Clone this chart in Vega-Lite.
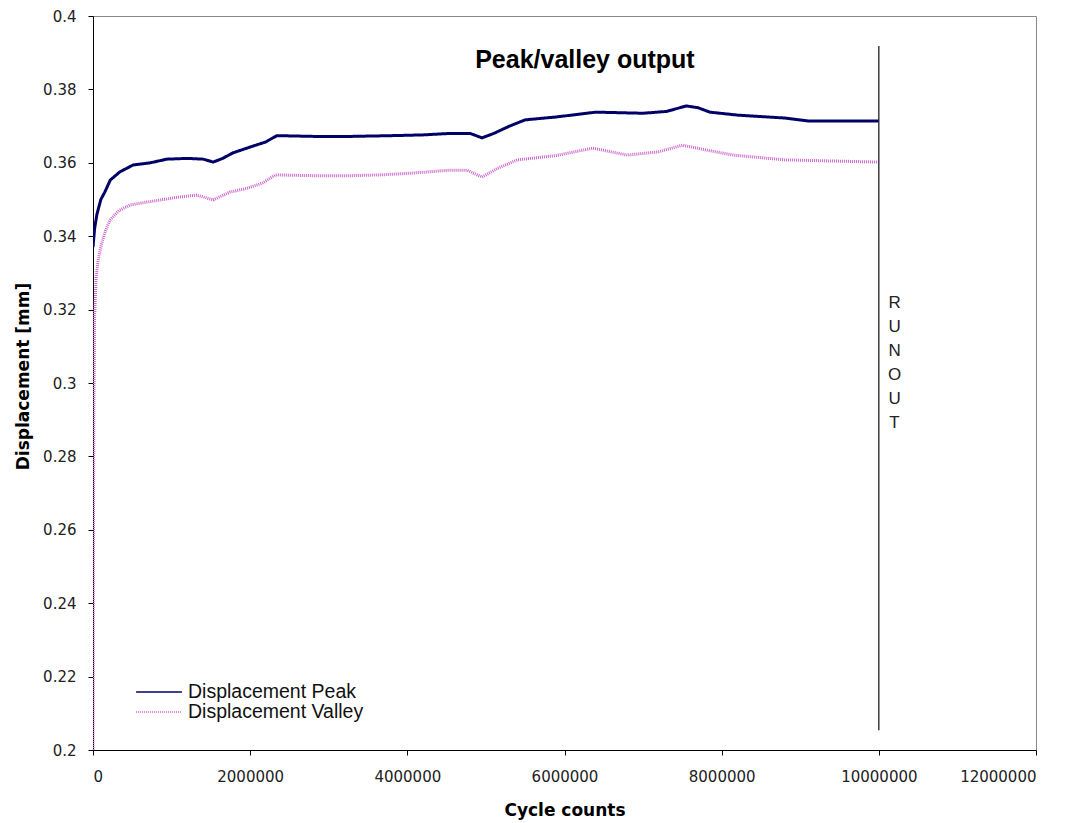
{
  "$schema": "https://vega.github.io/schema/vega-lite/v6.json",
  "width": 943,
  "height": 734,
  "autosize": {"type": "none"},
  "padding": {"left": 93, "top": 16, "right": 44, "bottom": 73},
  "background": "white",
  "config": {
    "view": {"stroke": "#888888", "strokeWidth": 1},
    "axis": {
      "grid": false,
      "domainColor": "#000000",
      "tickColor": "#000000",
      "labelColor": "#222222",
      "labelFont": "DejaVu Sans",
      "labelFontSize": 15,
      "titleFont": "DejaVu Sans",
      "titleFontSize": 17,
      "titleFontWeight": "bold",
      "titleColor": "#000000",
      "tickSize": 5
    },
    "legend": {"labelFont": "Liberation Sans", "labelFontSize": 19.5, "labelColor": "#111111", "labelLimit": 400}
  },
  "datasets": {
    "series": [
      {"cycles": 0, "disp": 0.337, "series": "Displacement Peak"},
      {"cycles": 20000, "disp": 0.342, "series": "Displacement Peak"},
      {"cycles": 50000, "disp": 0.346, "series": "Displacement Peak"},
      {"cycles": 100000, "disp": 0.350, "series": "Displacement Peak"},
      {"cycles": 150000, "disp": 0.352, "series": "Displacement Peak"},
      {"cycles": 220000, "disp": 0.3553, "series": "Displacement Peak"},
      {"cycles": 340000, "disp": 0.3575, "series": "Displacement Peak"},
      {"cycles": 510000, "disp": 0.3594, "series": "Displacement Peak"},
      {"cycles": 730000, "disp": 0.3600, "series": "Displacement Peak"},
      {"cycles": 940000, "disp": 0.3610, "series": "Displacement Peak"},
      {"cycles": 1200000, "disp": 0.3612, "series": "Displacement Peak"},
      {"cycles": 1400000, "disp": 0.3610, "series": "Displacement Peak"},
      {"cycles": 1530000, "disp": 0.3602, "series": "Displacement Peak"},
      {"cycles": 1650000, "disp": 0.3612, "series": "Displacement Peak"},
      {"cycles": 1780000, "disp": 0.3627, "series": "Displacement Peak"},
      {"cycles": 2000000, "disp": 0.3643, "series": "Displacement Peak"},
      {"cycles": 2200000, "disp": 0.3657, "series": "Displacement Peak"},
      {"cycles": 2340000, "disp": 0.3674, "series": "Displacement Peak"},
      {"cycles": 2800000, "disp": 0.3672, "series": "Displacement Peak"},
      {"cycles": 3300000, "disp": 0.3672, "series": "Displacement Peak"},
      {"cycles": 3800000, "disp": 0.3674, "series": "Displacement Peak"},
      {"cycles": 4200000, "disp": 0.3676, "series": "Displacement Peak"},
      {"cycles": 4540000, "disp": 0.3680, "series": "Displacement Peak"},
      {"cycles": 4800000, "disp": 0.3680, "series": "Displacement Peak"},
      {"cycles": 4950000, "disp": 0.3668, "series": "Displacement Peak"},
      {"cycles": 5100000, "disp": 0.3680, "series": "Displacement Peak"},
      {"cycles": 5300000, "disp": 0.3700, "series": "Displacement Peak"},
      {"cycles": 5500000, "disp": 0.3717, "series": "Displacement Peak"},
      {"cycles": 5900000, "disp": 0.3725, "series": "Displacement Peak"},
      {"cycles": 6400000, "disp": 0.3738, "series": "Displacement Peak"},
      {"cycles": 7000000, "disp": 0.3735, "series": "Displacement Peak"},
      {"cycles": 7300000, "disp": 0.3740, "series": "Displacement Peak"},
      {"cycles": 7550000, "disp": 0.3755, "series": "Displacement Peak"},
      {"cycles": 7700000, "disp": 0.3750, "series": "Displacement Peak"},
      {"cycles": 7850000, "disp": 0.3738, "series": "Displacement Peak"},
      {"cycles": 8200000, "disp": 0.3730, "series": "Displacement Peak"},
      {"cycles": 8800000, "disp": 0.3722, "series": "Displacement Peak"},
      {"cycles": 9100000, "disp": 0.3714, "series": "Displacement Peak"},
      {"cycles": 10000000, "disp": 0.3714, "series": "Displacement Peak"},
      {"cycles": 0, "disp": 0.200, "series": "Displacement Valley"},
      {"cycles": 5000, "disp": 0.250, "series": "Displacement Valley"},
      {"cycles": 10000, "disp": 0.290, "series": "Displacement Valley"},
      {"cycles": 20000, "disp": 0.318, "series": "Displacement Valley"},
      {"cycles": 40000, "disp": 0.329, "series": "Displacement Valley"},
      {"cycles": 70000, "disp": 0.334, "series": "Displacement Valley"},
      {"cycles": 110000, "disp": 0.338, "series": "Displacement Valley"},
      {"cycles": 160000, "disp": 0.3415, "series": "Displacement Valley"},
      {"cycles": 216000, "disp": 0.3444, "series": "Displacement Valley"},
      {"cycles": 330000, "disp": 0.3470, "series": "Displacement Valley"},
      {"cycles": 470000, "disp": 0.3485, "series": "Displacement Valley"},
      {"cycles": 690000, "disp": 0.3493, "series": "Displacement Valley"},
      {"cycles": 900000, "disp": 0.3500, "series": "Displacement Valley"},
      {"cycles": 1100000, "disp": 0.3507, "series": "Displacement Valley"},
      {"cycles": 1320000, "disp": 0.3512, "series": "Displacement Valley"},
      {"cycles": 1530000, "disp": 0.3499, "series": "Displacement Valley"},
      {"cycles": 1740000, "disp": 0.3520, "series": "Displacement Valley"},
      {"cycles": 1950000, "disp": 0.3530, "series": "Displacement Valley"},
      {"cycles": 2160000, "disp": 0.3545, "series": "Displacement Valley"},
      {"cycles": 2320000, "disp": 0.3567, "series": "Displacement Valley"},
      {"cycles": 2800000, "disp": 0.3565, "series": "Displacement Valley"},
      {"cycles": 3300000, "disp": 0.3565, "series": "Displacement Valley"},
      {"cycles": 3650000, "disp": 0.3567, "series": "Displacement Valley"},
      {"cycles": 4070000, "disp": 0.3572, "series": "Displacement Valley"},
      {"cycles": 4540000, "disp": 0.3580, "series": "Displacement Valley"},
      {"cycles": 4760000, "disp": 0.3580, "series": "Displacement Valley"},
      {"cycles": 4950000, "disp": 0.3561, "series": "Displacement Valley"},
      {"cycles": 5150000, "disp": 0.3585, "series": "Displacement Valley"},
      {"cycles": 5400000, "disp": 0.3608, "series": "Displacement Valley"},
      {"cycles": 5900000, "disp": 0.3620, "series": "Displacement Valley"},
      {"cycles": 6360000, "disp": 0.3640, "series": "Displacement Valley"},
      {"cycles": 6800000, "disp": 0.3621, "series": "Displacement Valley"},
      {"cycles": 7200000, "disp": 0.3630, "series": "Displacement Valley"},
      {"cycles": 7500000, "disp": 0.3648, "series": "Displacement Valley"},
      {"cycles": 7800000, "disp": 0.3635, "series": "Displacement Valley"},
      {"cycles": 8150000, "disp": 0.3621, "series": "Displacement Valley"},
      {"cycles": 8800000, "disp": 0.3608, "series": "Displacement Valley"},
      {"cycles": 10000000, "disp": 0.3602, "series": "Displacement Valley"}
    ],
    "runout": [{"cycles": 10000000, "top": 0.3918, "bottom": 0.2054}],
    "notes": [
      {"cycles": 10200000, "disp": 0.3204, "label": "RUNOUT"},
      {"cycles": 6260000, "disp": 0.3858, "label": "Peak/valley output"}
    ]
  },
  "layer": [
    {
      "data": {"name": "series"},
      "mark": {"type": "line", "clip": true, "strokeWidth": 3},
      "encoding": {
        "x": {
          "field": "cycles", "type": "quantitative",
          "scale": {"domain": [0, 12000000], "nice": false},
          "axis": {"title": "Cycle counts", "values": [0, 2000000, 4000000, 6000000, 8000000, 10000000, 12000000], "format": "d", "labelPadding": 14, "titlePadding": 18}
        },
        "y": {
          "field": "disp", "type": "quantitative",
          "scale": {"domain": [0.2, 0.4], "nice": false, "zero": false},
          "axis": {"title": "Displacement [mm]", "values": [0.2, 0.22, 0.24, 0.26, 0.28, 0.3, 0.32, 0.34, 0.36, 0.38, 0.4], "format": ".2~f", "labelPadding": 12, "titlePadding": 10, "titleY": 360}
        },
        "color": {
          "field": "series", "type": "nominal",
          "scale": {"domain": ["Displacement Peak", "Displacement Valley"], "range": ["#000066", "#cc66cc"]},
          "legend": {"title": null, "orient": "none", "legendX": 42, "legendY": 666, "symbolType": "stroke", "symbolSize": 2100, "symbolStrokeWidth": 1.5, "rowPadding": 0, "clipHeight": 20, "labelOffset": 5}
        },
        "strokeDash": {
          "field": "series", "type": "nominal",
          "scale": {"domain": ["Displacement Peak", "Displacement Valley"], "range": [[1, 0], [1, 1]]},
          "legend": {"title": null, "orient": "none", "legendX": 42, "legendY": 666, "symbolType": "stroke", "symbolSize": 2100, "symbolStrokeWidth": 1.5, "rowPadding": 0, "clipHeight": 20, "labelOffset": 5}
        }
      }
    },
    {
      "data": {"name": "runout"},
      "mark": {"type": "rule", "color": "#222222", "strokeWidth": 1.3},
      "encoding": {
        "x": {"field": "cycles", "type": "quantitative"},
        "y": {"field": "top", "type": "quantitative"},
        "y2": {"field": "bottom"}
      }
    },
    {
      "data": {"name": "notes"},
      "transform": [{"filter": "datum.label === 'RUNOUT'"}],
      "mark": {"type": "text", "font": "Liberation Sans", "fontSize": 17, "lineHeight": 24, "color": "#222222", "baseline": "alphabetic", "align": "center"},
      "encoding": {
        "x": {"field": "cycles", "type": "quantitative"},
        "y": {"field": "disp", "type": "quantitative"},
        "text": {"value": ["R", "U", "N", "O", "U", "T"]}
      }
    },
    {
      "data": {"name": "notes"},
      "transform": [{"filter": "datum.label !== 'RUNOUT'"}],
      "mark": {"type": "text", "font": "Liberation Sans", "fontSize": 25, "fontWeight": "bold", "color": "#000000", "baseline": "alphabetic", "align": "center"},
      "encoding": {
        "x": {"field": "cycles", "type": "quantitative"},
        "y": {"field": "disp", "type": "quantitative"},
        "text": {"field": "label"}
      }
    }
  ]
}
